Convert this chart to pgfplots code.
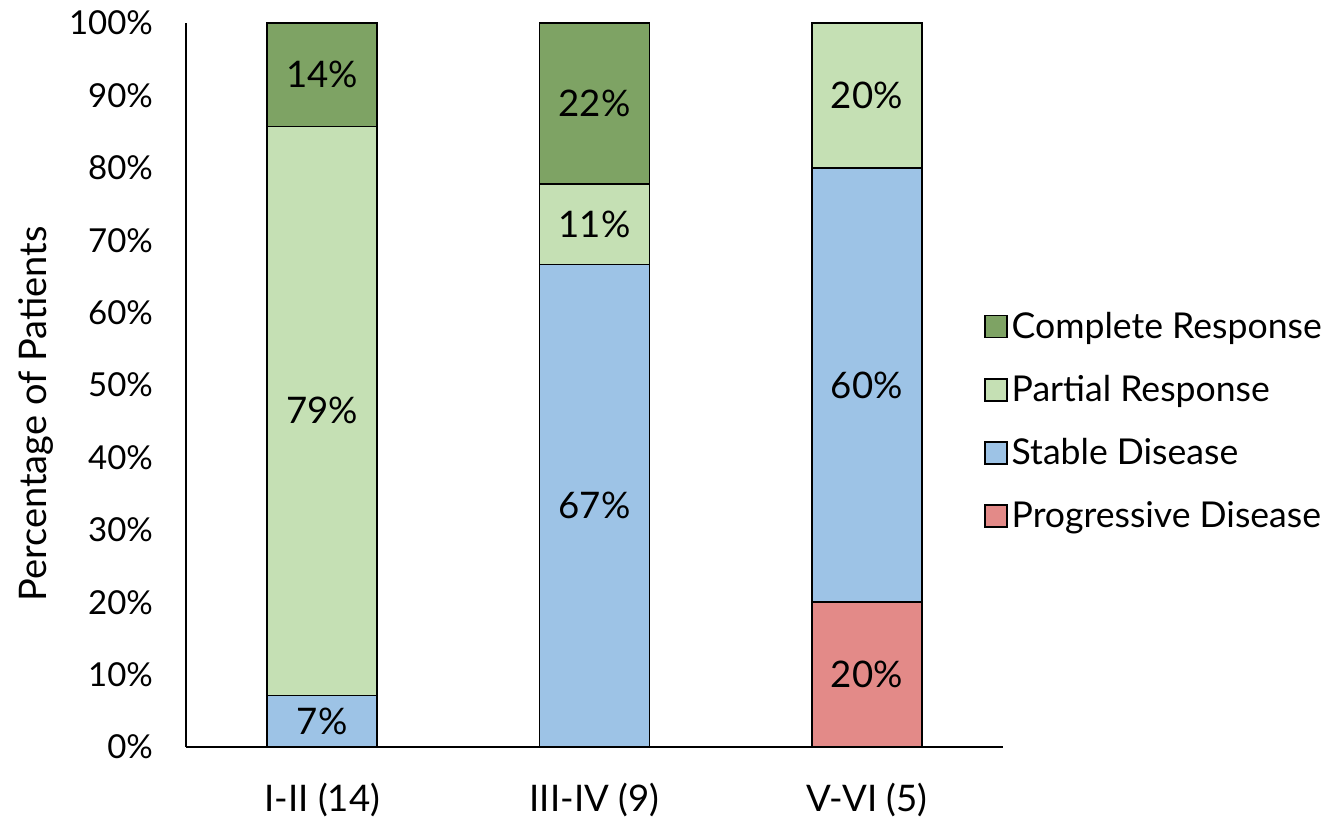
\documentclass[border=0pt]{standalone}
\usepackage{pgfplots}
\pgfplotsset{compat=1.18}
\usepackage{fontspec}
\setmainfont{Lato}
\definecolor{cr}{HTML}{7EA364}
\definecolor{pr}{HTML}{C5E0B4}
\definecolor{sd}{HTML}{9DC3E6}
\definecolor{pd}{HTML}{E38A88}
\newcommand{\fs}{\fontsize{16.5}{19}\selectfont}
\newcommand{\fb}{\fontsize{18.3}{21}\selectfont}
\pgfplotsset{common/.style={
 at={(0,0)}, anchor=south west, scale only axis,
 width=408.5pt, height=362pt,
 xmin=-0.5, xmax=2.5, ymin=0, ymax=100}}
\begin{document}
\begin{tikzpicture}
\useasboundingbox (-93pt,-36pt) rectangle (570.5pt,373.5pt);
\begin{axis}[
 common,
 ybar stacked, bar width=55pt,
 xtick={0,1,2}, xticklabels={I-II (14), III-IV (9), V-VI (5)},
 ytick={0,10,...,100},
 yticklabel={\pgfmathprintnumber[fixed,precision=0]{\tick}\%},
 /pgf/number format/assume math mode=true,
 major tick length=0pt,
 axis x line*=bottom, axis y line*=left,
 axis line style={black, line width=0.8pt, -},
 yticklabel style={anchor=east, xshift=-13pt, font=\fs},
 xticklabel style={anchor=center, yshift=-26.5pt, font=\fb},
 ylabel={Percentage of Patients},
 every axis y label/.style={at={(axis description cs:-0.184,0.46)}, rotate=90, anchor=center, font=\fontsize{19}{22}\selectfont},
 legend style={at={(0.969,0.45)}, anchor=west, draw=none, fill=none, font=\fontsize{17.8}{20}\selectfont, row sep=13pt, legend cell align=left},
 reverse legend,
 legend image code/.code={\draw[#1, draw=black, line width=0.8pt] (0pt,-5.5pt) rectangle (11pt,5.5pt);},
 every axis plot/.append style={draw=black, line width=0.8pt},
]
\addplot[fill=pd] coordinates {(0,0) (1,0) (2,20)};
\addplot[fill=sd] coordinates {(0,7.14) (1,66.67) (2,60)};
\addplot[fill=pr] coordinates {(0,78.57) (1,11.11) (2,20)};
\addplot[fill=cr] coordinates {(0,14.29) (1,22.22) (2,0)};
\legend{Progressive Disease, Stable Disease, Partial Response, Complete Response}
\end{axis}
\begin{axis}[
 common, hide axis,
 point meta=explicit symbolic,
 nodes near coords,
 every node near coord/.append style={anchor=center, font=\fb, black},
]
\addplot[draw=none, mark=none] coordinates {
 (0,3.57) [7\%] (0,46.43) [79\%] (0,92.86) [14\%]
 (1,33.33) [67\%] (1,72.22) [11\%] (1,88.89) [22\%]
 (2,10) [20\%] (2,50) [60\%] (2,90) [20\%]};
\end{axis}
\end{tikzpicture}
\end{document}
